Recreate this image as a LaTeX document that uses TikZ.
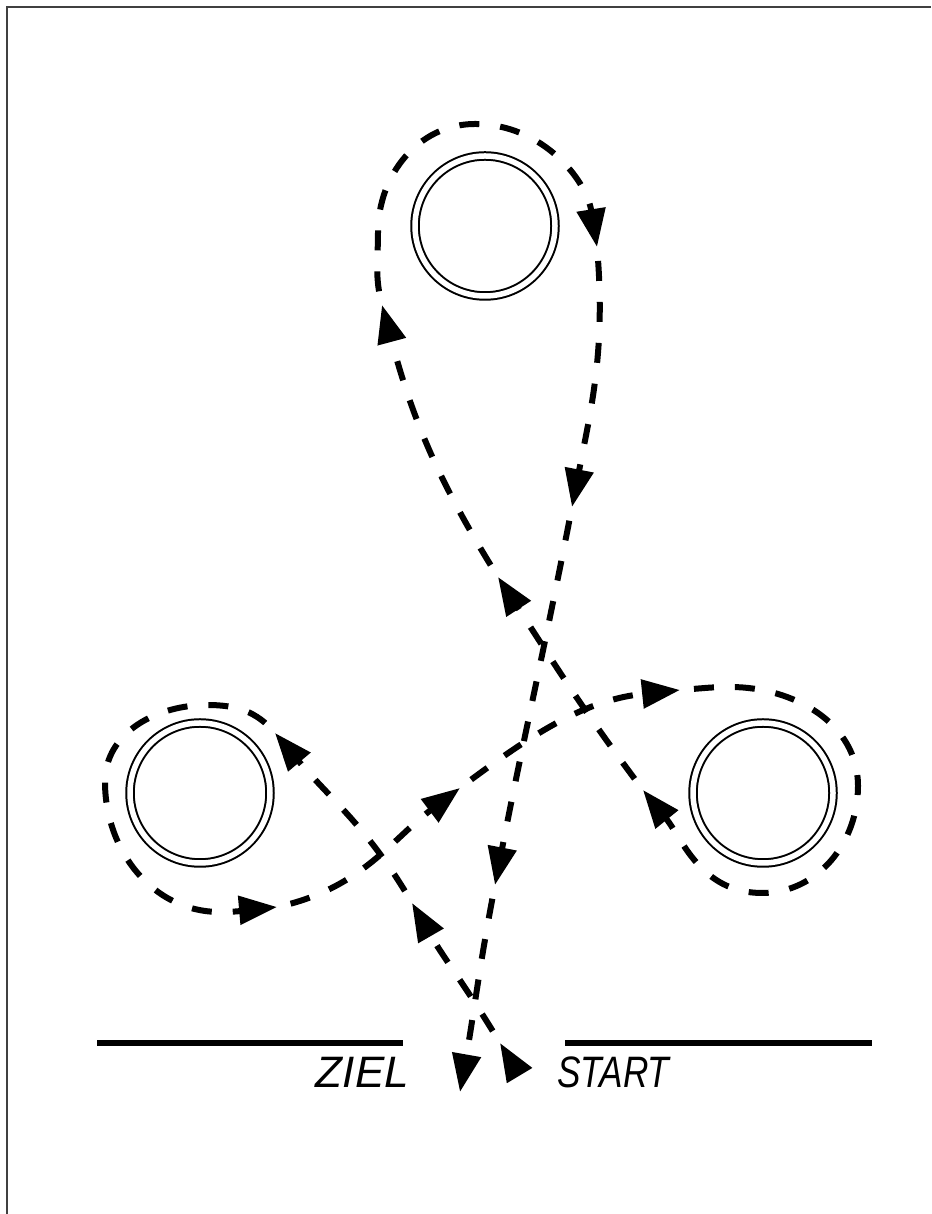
\documentclass[tikz,border=0pt]{standalone}
\usepackage{fontspec}
\newfontfamily\pinsel{Liberation Sans}
\usetikzlibrary {
  positioning,
  arrows.meta,
}
\tikzset{
  rahmen/.style = {
    draw = black!75,
    line width = 2pt
  },
  pylon/.style = {
    circle,
    draw,
    double,
    line width = 2pt,
    double distance = 5.5pt,
    minimum size = 140pt,
    inner sep = 0pt
  },
  linie/.style = {
    line width = 5.5pt
  },
  schild/.style = {
    font = \pinsel\itshape\fontsize{44}{44}\selectfont,
    inner sep = 0pt
  },
  spur/.style = {
    line width = 6pt,
    dash pattern = on 20pt off 21pt,
    dash phase = 27pt,
    -{Triangle[length = 38pt, width = 28pt]}
  }
}

\begin{document}
\begin{tikzpicture}[x = 1pt, y = 1pt]
  \useasboundingbox (0,0) rectangle (931,1214);
  % Rahmen.
  \draw[rahmen] (7,0) -- (7,1207) -- (931,1207);

  % Pylonen.
  \node[pylon] (oben) at (485,988) {};
  \node[pylon] (links) at (200,421) {};
  \node[pylon] (rechts) at (763,421) {};

  % Start und Ziel.
  \coordinate (zA) at (97,171);
  \coordinate (zB) at (403,171);
  \coordinate (sA) at (565,171);
  \coordinate (sB) at (872,171);
  \draw[linie] (zA) -- (zB);
  \draw[linie] (sA) -- (sB);
  \node[schild] (ziel) [below left = 14pt and -6pt of zB] {ZIEL};
  \node[schild] (start) [below right = 14pt and -8pt of sA] {\scalebox{.8}[1]{START}};

  % Strecke.
  \coordinate (p0) at (522,134);
  \coordinate (p1) at (500,171);
  \coordinate (p2) at (412,311);
  \coordinate (p3) at (275,481);
  \coordinate (lo) at (207,509);
  \coordinate (ll) at (105,432);
  \coordinate (lu) at (220,302);
  \coordinate (p4) at (277,307);
  \coordinate (p5) at (460,426);
  \coordinate (p6) at (680,524);
  \coordinate (ro) at (730,527);
  \coordinate (rr) at (858,428);
  \coordinate (ru) at (762,321);
  \coordinate (p7) at (643,424);
  \coordinate (p8) at (498,637);
  \coordinate (p9) at (382,909);
  \coordinate (ol) at (378,982);
  \coordinate (oo) at (475,1090);
  \coordinate (p10) at (597,967);
  \coordinate (p11) at (572,707);
  \coordinate (p12) at (495,329);
  \coordinate (p13) at (460,122);

  \draw[spur] (p0) to[out = 121, in = 301] (p1);
  \draw[spur] (p1) to[out = 121, in = 300] (p2);
  \draw[spur] (p2) to[out = 120, in = 310] (p3);
  \draw[spur] (p3) to[out = 130, in = 0] (lo) to[out = 180, in = 90] (ll)
    to[out = 270, in = 180] (lu) to[out = 0, in = 185] (p4);
  \draw[spur] (p4) to[out = 12, in = 217] (p5);
  \draw[spur] (p5) to[out = 37, in = 186] (p6);
  \draw[spur] (p6) to[out = 4, in = 180] (ro) to[out = 0, in = 90] (rr)
    to[out = 270, in = 0] (ru) to[out = 180, in = 309] (p7);
  \draw[spur] (p7) to[out = 127, in = 303] (p8);
  \draw[spur] (p8) to[out = 122, in = 285] (p9);
  \draw[spur] (p9) to[out = 105, in = 270] (ol) to[out = 90, in = 180] (oo)
    to[out = 0, in = 99] (p10);
  \draw[spur] (p10) to[out = 275, in = 79] (p11);
  \draw[spur] (p11) to[out = 259, in = 79] (p12);
  \draw[spur] (p12) to[out = 259, in = 80] (p13);
\end{tikzpicture}
\end{document}
